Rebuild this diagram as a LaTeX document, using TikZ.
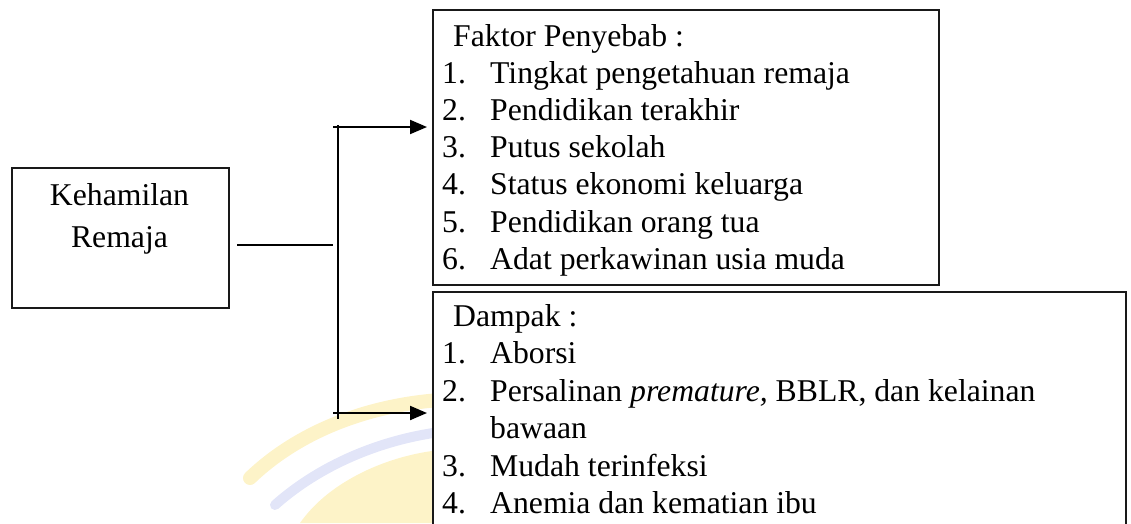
\documentclass[tikz,border=0pt]{standalone}
\usepackage{fontspec}
\setmainfont{Liberation Serif}
\usetikzlibrary{arrows.meta,calc}
\definecolor{wmyellow}{RGB}{253,243,200}
\definecolor{wmblue}{RGB}{226,229,248}
\tikzset{
  box/.style={draw=black!90, fill=white, line width=1.6pt, inner sep=0pt, anchor=north west},
  txt/.style={anchor=base west, inner sep=0pt, font=\fontsize{31.7}{37}\selectfont},
  ctxt/.style={anchor=base, inner sep=0pt, font=\fontsize{31.7}{37}\selectfont},
  conn/.style={line width=1.8pt},
  arr/.style={line width=2pt, -{Triangle[length=17pt,width=14pt]}, shorten >=5pt},
  wm/.style={line cap=round}
}
\begin{document}
\begin{tikzpicture}[x=1pt,y=-1pt]
\useasboundingbox (0,0) rectangle (1131,523);
\clip (0,0) rectangle (1131,523);
% faint watermark (drawn first, under the boxes)
\coordinate (w1) at (250,478);
\coordinate (w2) at (440,400);
\coordinate (w3) at (275,505);
\coordinate (w4) at (440,432);
\draw[wm, wmyellow, line width=14pt] (w1) .. controls (300,430) and (370,405) .. (w2);
\draw[wm, wmblue, line width=10pt] (w3) .. controls (320,465) and (380,440) .. (w4);
\fill[wmyellow] (300,523) .. controls (330,480) and (390,455) .. (440,450) -- (440,523) -- cycle;
% boxes
\node[box, minimum width=217pt, minimum height=140pt] (kr) at (11,167) {};
\node[box, minimum width=506pt, minimum height=275pt] (fp) at (432,9) {};
\node[box, minimum width=693pt, minimum height=260pt] (dp) at (432,291) {};
% left text
\node[ctxt] (k1) at (119.5,205.7) {Kehamilan};
\node[ctxt] (k2) at (119.5,247.3) {Remaja};
% top box text
\node[txt] (f0) at (453,46) {Faktor Penyebab :};
\foreach \n/\t [count=\i] in {1/Tingkat pengetahuan remaja, 2/Pendidikan terakhir, 3/Putus sekolah, 4/Status ekonomi keluarga, 5/Pendidikan orang tua, 6/Adat perkawinan usia muda}{
  \node[txt] (fn\i) at (442,46+37.2*\i) {\n.};
  \node[txt] (ft\i) at (490,46+37.2*\i) {\t};
}
% bottom box text
\node[txt] (d0) at (453,326) {Dampak :};
\node[txt] (dn1) at (442,363.5) {1.};
\node[txt] (dt1) at (490,363.5) {Aborsi};
\node[txt] (dn2) at (442,401) {2.};
\node[txt] (dt2) at (490,401) {Persalinan \textit{premature,} BBLR, dan kelainan};
\node[txt] (dt2b) at (490,438.5) {bawaan};
\node[txt] (dn3) at (442,476) {3.};
\node[txt] (dt3) at (490,476) {Mudah terinfeksi};
\node[txt] (dn4) at (442,513.5) {4.};
\node[txt] (dt4) at (490,513.5) {Anemia dan kematian ibu};
% connectors
\coordinate (h1) at (237,245);
\coordinate (h2) at (333,245);
\coordinate (vtop) at (338,125);
\coordinate (vbot) at (338,419);
\coordinate (a1) at (333,127);
\coordinate (a2) at (333,413);
\draw[conn] (h1) -- (h2);
\draw[conn] (vtop) -- (vbot);
\draw[arr] (a1) -- (a1 -| fp.west);
\draw[arr] (a2) -- (a2 -| dp.west);
\end{tikzpicture}
\end{document}
